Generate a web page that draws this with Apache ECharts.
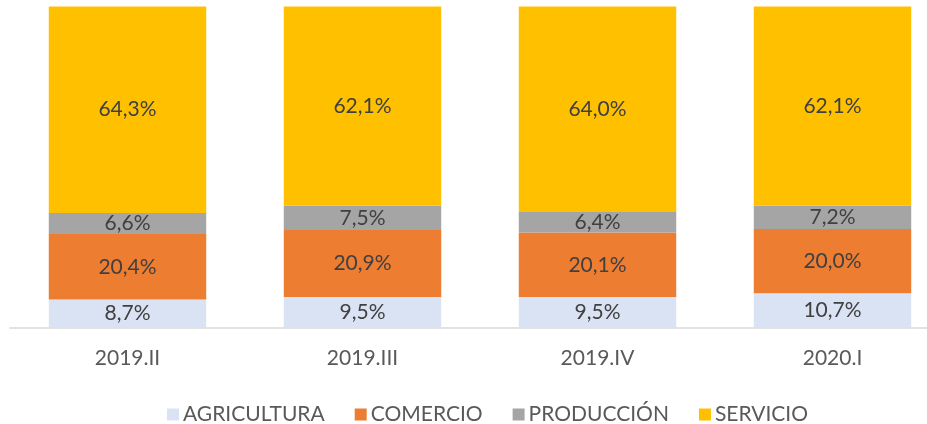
<!DOCTYPE html>
<html>
<head>
<meta charset="utf-8">
<script src="https://cdn.jsdelivr.net/npm/echarts@6/dist/echarts.min.js"></script>
<style>html,body{margin:0;padding:0;background:#fff}#c{width:927px;height:424px}</style>
</head>
<body>
<div id="c"></div>
<script>
const categories = ['2019.II', '2019.III', '2019.IV', '2020.I'];
const agricultura = [8.7, 9.5, 9.5, 10.7];
const comercio = [20.4, 20.9, 20.1, 20.0];
const produccion = [6.6, 7.5, 6.4, 7.2];
const servicio = [64.3, 62.1, 64.0, 62.1];
const seriesNames = ['AGRICULTURA', 'COMERCIO', 'PRODUCCIÓN', 'SERVICIO'];
const colors = ['#dae3f3', '#ed7d31', '#a5a5a5', '#ffc000'];

const font = 'Lato, "Open Sans", sans-serif';
const chart = echarts.init(document.getElementById('c'), null, {renderer: 'canvas'});
const dataSets = [agricultura, comercio, produccion, servicio];
chart.setOption({
  animation: false,
  color: colors,
  grid: {left: 10, right: -23, top: 6.5, bottom: 96.5, containLabel: false, outerBoundsMode: 'none'},
  legend: {
    top: 399, left: 162,
    itemWidth: 12, itemHeight: 12, itemGap: 30,
    icon: 'rect',
    textStyle: {fontFamily: font, fontSize: 21, color: '#595959', padding: [0, 0, 0, -1]},
    data: seriesNames
  },
  xAxis: {
    type: 'category', data: categories,
    axisLine: {lineStyle: {color: '#d9d9d9', width: 1.5}},
    axisTick: {show: false},
    axisLabel: {fontFamily: font, fontSize: 21, color: '#595959', margin: 20}
  },
  yAxis: {type: 'value', min: 0, max: 100, show: false},
  series: dataSets.map((d, i) => ({
    name: seriesNames[i], type: 'bar', stack: 'total', barWidth: '67%',
    data: d,
    label: {show: true, position: 'inside', fontFamily: font, fontSize: 21, color: '#404040',
      formatter: p => p.value.toFixed(1).replace('.', ',') + '%'}
  }))
});
</script>
</body>
</html>
